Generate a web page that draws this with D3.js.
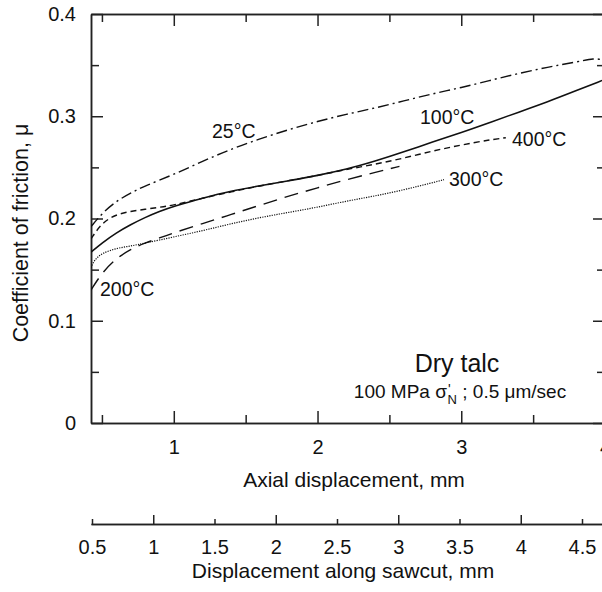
<!DOCTYPE html>
<html>
<head>
<meta charset="utf-8">
<script src="https://cdn.jsdelivr.net/npm/d3@7"></script>
<style>
  body { margin: 0; background: #fff; }
  svg text { font-family: "Liberation Sans", Arial, sans-serif; fill: #111; }
</style>
</head>
<body>
<svg id="chart" width="602" height="592"></svg>
<script>
// data: [axial displacement mm, friction coefficient]
var mu25 = [[0.424,0.192],[0.5,0.205],[0.6,0.217],[0.7,0.225],[0.8,0.232],[1.0,0.243],[1.2,0.256],[1.4,0.268],[1.6,0.278],[1.8,0.287],[2.0,0.295],[2.2,0.302],[2.4,0.308],[2.6,0.315],[2.8,0.322],[3.0,0.328],[3.2,0.335],[3.4,0.342],[3.6,0.348],[3.8,0.353],[3.93,0.357],[3.98,0.355]];
var mu100 = [[0.424,0.167],[0.5,0.176],[0.6,0.186],[0.7,0.194],[0.8,0.201],[0.9,0.207],[1.0,0.212],[1.2,0.220],[1.4,0.227],[1.6,0.232],[1.8,0.237],[2.0,0.242],[2.2,0.248],[2.4,0.256],[2.6,0.265],[2.8,0.275],[3.0,0.284],[3.2,0.294],[3.4,0.304],[3.6,0.314],[3.8,0.325],[3.98,0.335]];
var mu200 = [[0.424,0.130],[0.5,0.147],[0.6,0.161],[0.7,0.170],[0.8,0.176],[0.9,0.181],[1.0,0.186],[1.2,0.195],[1.4,0.204],[1.6,0.213],[1.8,0.222],[2.0,0.230],[2.2,0.238],[2.4,0.245],[2.57,0.251]];
var mu300 = [[0.424,0.152],[0.45,0.160],[0.5,0.166],[0.6,0.171],[0.7,0.173],[0.8,0.176],[1.0,0.182],[1.2,0.188],[1.4,0.195],[1.6,0.201],[1.8,0.206],[2.0,0.211],[2.2,0.217],[2.4,0.222],[2.6,0.228],[2.8,0.235],[2.88,0.238]];
var mu400 = [[0.424,0.180],[0.5,0.196],[0.6,0.204],[0.7,0.207],[0.8,0.209],[0.9,0.211],[1.0,0.213],[1.2,0.220],[1.4,0.226],[1.6,0.232],[1.8,0.237],[2.0,0.242],[2.2,0.248],[2.4,0.253],[2.6,0.259],[2.8,0.266],[3.0,0.272],[3.2,0.277],[3.31,0.279]];

var seriesNames = ["25°C", "100°C", "200°C", "300°C", "400°C"];
var axialMajor = [1, 2, 3, 4];
var axialMinor = [0.5, 1.5, 2.5, 3.5];
var muMajor = [0, 0.1, 0.2, 0.3, 0.4];
var muMinor = [0.05, 0.15, 0.25, 0.35];
var sawcutMajor = [1, 2, 3, 4];
var sawcutMinor = [0.5, 1.5, 2.5, 3.5, 4.5];

var svg = d3.select("#chart");

var plotLeft = 91, plotRight = 605, plotTop = 14, plotBottom = 423;

var x = d3.scaleLinear().domain([0.424, 4]).range([plotLeft, plotRight]);
var y = d3.scaleLinear().domain([0, 0.4]).range([plotBottom, plotTop]);
var s = d3.scaleLinear().domain([0.5, 4.5]).range([92, 582]);
var sAxisScale = s.copy().domain([s.invert(plotLeft), s.invert(plotRight)]).range([plotLeft, plotRight]);

function styleAxis(g) {
  g.attr("font-size", 20).attr("font-family", null);
  g.selectAll("path, line").attr("stroke", "#222").attr("stroke-width", 1.5);
  g.selectAll("text").attr("fill", "#111");
}

var fmt = d3.format("~g");

// frame: bottom, left, top, right with inward ticks
svg.append("g").attr("transform", "translate(0," + plotBottom + ")")
  .call(d3.axisBottom(x).tickValues(axialMinor).tickSize(-8).tickSizeOuter(0).tickFormat(""))
  .call(styleAxis);
svg.append("g").attr("transform", "translate(0," + plotBottom + ")")
  .call(d3.axisBottom(x).tickValues(axialMajor).tickSize(-12).tickSizeOuter(0).tickPadding(17).tickFormat(fmt))
  .call(styleAxis);

svg.append("g").attr("transform", "translate(0," + plotTop + ")")
  .call(d3.axisTop(x).tickValues(axialMinor).tickSize(-8).tickSizeOuter(0).tickFormat(""))
  .call(styleAxis);
svg.append("g").attr("transform", "translate(0," + plotTop + ")")
  .call(d3.axisTop(x).tickValues(axialMajor).tickSize(-12).tickSizeOuter(0).tickFormat(""))
  .call(styleAxis);

svg.append("g").attr("transform", "translate(" + plotLeft + ",0)")
  .call(d3.axisLeft(y).tickValues(muMinor).tickSize(-8).tickSizeOuter(0).tickFormat(""))
  .call(styleAxis);
svg.append("g").attr("transform", "translate(" + plotLeft + ",0)")
  .call(d3.axisLeft(y).tickValues(muMajor).tickSize(-12).tickSizeOuter(0).tickPadding(15).tickFormat(fmt))
  .call(styleAxis);

svg.append("g").attr("transform", "translate(" + plotRight + ",0)")
  .call(d3.axisRight(y).tickValues(muMinor).tickSize(-8).tickSizeOuter(0).tickFormat(""))
  .call(styleAxis);
svg.append("g").attr("transform", "translate(" + plotRight + ",0)")
  .call(d3.axisRight(y).tickValues(muMajor).tickSize(-12).tickSizeOuter(0).tickFormat(""))
  .call(styleAxis);

// second axis: displacement along sawcut
svg.append("g").attr("transform", "translate(0,524)")
  .call(d3.axisBottom(sAxisScale).tickValues(sawcutMinor).tickSize(-5).tickSizeOuter(0).tickPadding(16).tickFormat(fmt))
  .call(styleAxis);
svg.append("g").attr("transform", "translate(0,524)")
  .call(d3.axisBottom(sAxisScale).tickValues(sawcutMajor).tickSize(-9).tickSizeOuter(0).tickPadding(16).tickFormat(fmt))
  .call(styleAxis);

// axis titles
svg.append("text")
  .attr("x", 354).attr("y", 487)
  .attr("text-anchor", "middle")
  .style("font-size", "21px")
  .text("Axial displacement, mm");

svg.append("text")
  .attr("x", 343).attr("y", 578)
  .attr("text-anchor", "middle")
  .style("font-size", "21px")
  .text("Displacement along sawcut, mm");

svg.append("text")
  .attr("transform", "translate(28,233) rotate(-90)")
  .attr("text-anchor", "middle")
  .style("font-size", "21.5px")
  .text("Coefficient of friction, μ");

// curves
svg.append("clipPath").attr("id", "plotclip")
  .append("rect").attr("x", plotLeft).attr("y", plotTop).attr("width", plotRight - plotLeft).attr("height", plotBottom - plotTop);

var line = d3.line()
  .x(function(d) { return x(d[0]); })
  .y(function(d) { return y(d[1]); })
  .curve(d3.curveBasis);

var curves = [
  { data: mu25, dash: "11,4,2,4", width: 1.4 },
  { data: mu100, dash: null, width: 1.6 },
  { data: mu200, dash: "14,8", width: 1.4 },
  { data: mu300, dash: "1.2,1.2", width: 1.2 },
  { data: mu400, dash: "6,4", width: 1.4 }
];

svg.append("g").attr("clip-path", "url(#plotclip)")
  .selectAll("path")
  .data(curves)
  .enter()
  .append("path")
  .attr("d", function(d) { return line(d.data); })
  .attr("fill", "none")
  .attr("stroke", "#111")
  .attr("stroke-width", function(d) { return d.width; })
  .attr("stroke-dasharray", function(d) { return d.dash; });

// curve labels
var labelPos = [[212, 138], [420, 124], [100, 296], [449, 186], [512, 146]];
svg.selectAll(".clabel")
  .data(seriesNames)
  .enter()
  .append("text")
  .attr("class", "clabel")
  .attr("x", function(d, i) { return labelPos[i][0]; })
  .attr("y", function(d, i) { return labelPos[i][1]; })
  .style("font-size", "19.5px")
  .text(function(d) { return d; });

// annotation
svg.append("text")
  .attr("x", 457).attr("y", 372)
  .attr("text-anchor", "middle")
  .style("font-size", "25px")
  .text("Dry talc");

var cond = svg.append("text")
  .attr("x", 460).attr("y", 398)
  .attr("text-anchor", "middle")
  .style("font-size", "19px");
cond.append("tspan").text("100 MPa σ");
cond.append("tspan").attr("dx", 1).attr("dy", -4).attr("font-size", "14px").text("'");
cond.append("tspan").attr("dx", -3).attr("dy", 10).attr("font-size", "13px").text("N");
cond.append("tspan").attr("dy", -6).text(" ; 0.5 μm/sec");
</script>
</body>
</html>
